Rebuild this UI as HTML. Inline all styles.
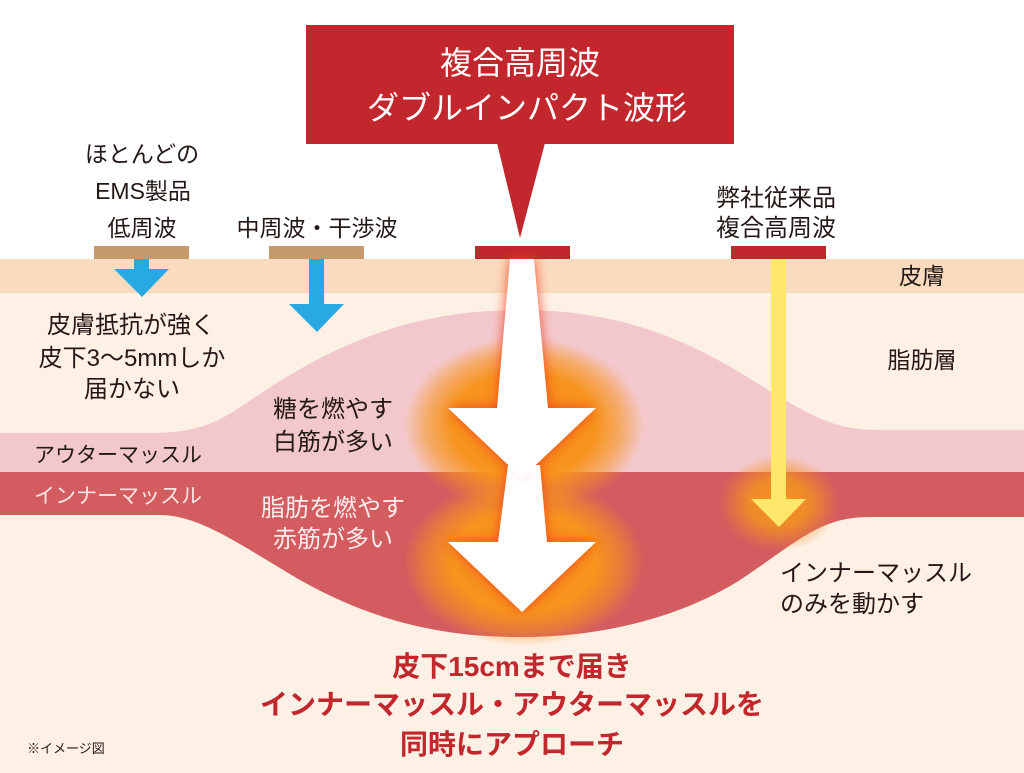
<!DOCTYPE html>
<html><head><meta charset="utf-8">
<style>
html,body{margin:0;padding:0;background:#fff;}
svg{display:block;}
text{font-family:"Liberation Sans","Noto Sans CJK JP",sans-serif;}
</style></head>
<body>
<svg width="1024" height="773" viewBox="0 0 1024 773" xmlns="http://www.w3.org/2000/svg">
<defs>
  <radialGradient id="glow" cx="50%" cy="50%" r="50%">
    <stop offset="0" stop-color="#f6891f" stop-opacity="1"/>
    <stop offset="0.6" stop-color="#f7941e" stop-opacity="1"/>
    <stop offset="0.82" stop-color="#f7941e" stop-opacity="0.55"/>
    <stop offset="1" stop-color="#f7941e" stop-opacity="0"/>
  </radialGradient>
  <radialGradient id="glowY" cx="50%" cy="50%" r="50%">
    <stop offset="0" stop-color="#f7941e" stop-opacity="1"/>
    <stop offset="0.5" stop-color="#f39221" stop-opacity="0.85"/>
    <stop offset="1" stop-color="#f39221" stop-opacity="0"/>
  </radialGradient>
  <filter id="blur" x="-50%" y="-50%" width="200%" height="200%">
    <feGaussianBlur stdDeviation="6"/>
  </filter>
</defs>

<rect x="0" y="0" width="1024" height="773" fill="#ffffff"/>
<rect x="0" y="259" width="1024" height="514" fill="#fdf0e5"/>
<rect x="0" y="259" width="1024" height="34" fill="#f9dbbf"/>

<path d="M0,433 L150,433 C220,433 230,410 290,375 C360,333 430,310 522,310 C620,310 690,340 760,385 C820,422 840,430 880,430 L1024,430 L1024,472 L0,472 Z" fill="#f3c8cd"/>
<path d="M0,472 L1024,472 L1024,517 L870,517 C820,517 800,540 740,580 C680,618 600,637 522,637 C450,637 380,625 300,580 C240,545 200,515 160,515 L0,515 Z" fill="#d35c60"/>

<ellipse cx="524" cy="425" rx="120" ry="88" fill="url(#glow)"/>
<ellipse cx="524" cy="562" rx="120" ry="84" fill="url(#glow)"/>
<ellipse cx="779" cy="503" rx="60" ry="48" fill="url(#glowY)"/>

<rect x="306" y="25" width="428" height="119" fill="#c1272d"/>
<polygon points="497,143 545,143 520,238" fill="#c1272d"/>
<text x="520" y="74" font-size="32" fill="#ffffff" text-anchor="middle">複合高周波</text>
<text x="527" y="119" font-size="32" fill="#ffffff" text-anchor="middle">ダブルインパクト波形</text>

<rect x="94" y="246" width="95" height="13" fill="#c69a6b"/>
<rect x="269" y="246" width="95" height="13" fill="#c69a6b"/>
<rect x="475" y="246" width="95" height="13" fill="#c1272d"/>
<rect x="731" y="246" width="95" height="13" fill="#c1272d"/>

<polygon points="134,259 149,259 149,269 169,269 142,297 114,269 134,269" fill="#29a9e1"/>
<polygon points="309,259 324,259 324,304 344,304 317,332 289,304 309,304" fill="#29a9e1"/>

<polygon points="771,259 786,259 786,499 806,499 779,527 751,499 771,499" fill="#ffe76b"/>

<g filter="url(#blur)" opacity="0.95">
  <polygon points="510,259 534,259 548,408 596,408 522,478 448,408 497,408" fill="#f0401c"/>
  <polygon points="508,465 540,465 547,542 596,542 522,612 448,542 498,542" fill="#f0401c"/>
</g>
<polygon points="508,465 540,465 547,542 596,542 522,612 448,542 498,542" fill="#ffffff"/>
<polygon points="522,478 512,470 532,470" fill="#f6c9c6" filter="url(#blur)" opacity="0.6"/>
<polygon points="510,259 534,259 548,408 596,408 522,478 448,408 497,408" fill="#ffffff"/>

<g font-size="23" fill="#231815" text-anchor="middle">
  <text x="142" y="162">ほとんどの</text>
  <text x="143" y="199">EMS製品</text>
  <text x="142" y="236">低周波</text>
  <text x="317" y="236">中周波・干渉波</text>
  <text x="776" y="206" font-size="24">弊社従来品</text>
  <text x="776" y="236" font-size="24">複合高周波</text>
</g>

<g font-size="23" fill="#231815" text-anchor="middle">
  <text x="922" y="284">皮膚</text>
  <text x="922" y="368">脂肪層</text>
</g>

<g font-size="24" fill="#231815" text-anchor="middle">
  <text x="131" y="333">皮膚抵抗が強く</text>
  <text x="132" y="366">皮下3〜5mmしか</text>
  <text x="132" y="397">届かない</text>
  <text x="333" y="417">糖を燃やす</text>
  <text x="333" y="450">白筋が多い</text>
</g>
<text x="118" y="462" font-size="21" fill="#231815" text-anchor="middle">アウターマッスル</text>
<text x="118" y="503" font-size="21" fill="#fbe5e3" text-anchor="middle">インナーマッスル</text>
<g font-size="24" fill="#fdeceb" text-anchor="middle">
  <text x="333" y="516">脂肪を燃やす</text>
  <text x="333" y="547">赤筋が多い</text>
</g>
<g font-size="24" fill="#231815">
  <text x="780" y="581">インナーマッスル</text>
  <text x="780" y="612">のみを動かす</text>
</g>

<g font-size="28" font-weight="bold" fill="#c1272d" text-anchor="middle">
  <text x="512" y="676">皮下15cmまで届き</text>
  <text x="512" y="714">インナーマッスル・アウターマッスルを</text>
  <text x="512" y="754">同時にアプローチ</text>
</g>

<text x="27" y="753" font-size="13" fill="#231815">※イメージ図</text>
</svg>
</body></html>
